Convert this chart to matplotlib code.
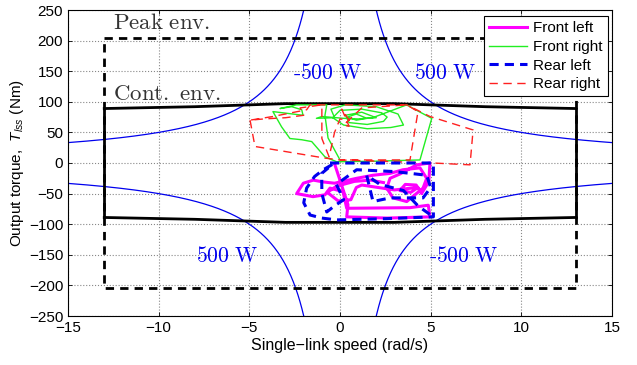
import numpy as np
import matplotlib
matplotlib.use("Agg")
import matplotlib.pyplot as plt

plt.rcParams['font.family'] = ['Liberation Sans', 'DejaVu Sans']
plt.rcParams['mathtext.fontset'] = 'custom'
plt.rcParams['mathtext.rm'] = 'Liberation Sans'
plt.rcParams['mathtext.it'] = 'Liberation Sans:italic'

# ---------------- data ----------------
x_ticks = [-15, -10, -5, 0, 5, 10, 15]
y_ticks = [-250, -200, -150, -100, -50, 0, 50, 100, 150, 200, 250]

peak_speed = [-13, 13, 13, -13, -13]
peak_torque = [205, 205, -205, -205, 205]

cont_speed = [-13, -8, -5, -3, 0, 3, 5, 8, 13]
cont_torque = [89, 92, 95, 97, 97, 97, 95, 92, 89]

power_levels = [500, -500]

fl_speed = [-0.28, 0.44, 0.37, 2.6, 4.96, 4.87, 3.86, 0.37, 0.17, -0.55, -0.83, -1.49,
            -2.39, -2.02, -1.47, -0.92, -0.3, 0.92, 1.82, 2.76, 3.47, 4.41, 4.78, 4.58,
            3.68, 2.92, 2.58, 2.76, 3.3, 4.23, 4.96, 4.9, 4.5, 4.2, 3.6, 3.3, 3.9, 4.3,
            3.0, 1.2, 0.9, 0.6, -0.1, -0.7, -0.2, 0.8, 1.7, 2.4]
fl_torque = [-3, -68, -88, -90, -88, -69, -73, -74, -47, -41, -52, -55,
             -50, -33, -28, -31, -33, -25, -20, -17, -11, -8, -25, -41,
             -63, -57, -41, -25, -18, -3, 0, -30, -50, -36, -35, -45, -48, -40,
             -44, -36, -40, -60, -62, -48, -38, -30, -28, -32]

fr_speed = [1.4, 0.9, 0.4, 0.9, 1.5, 2.0, 1.2, 0.3, 0.5, 1.5, 2.4, 2.6,
            2.3, 1.2, 0.0, -0.4, 0.2, 1.5, 2.8, 3.5, 3.2, 2.0, 0.3, -0.5,
            -0.3, -1.3, -1.0, 0.2, 1.0, 1.8,
            3.68, 4.04, 5.06, 4.41, 2.0, -0.18, -0.83, -1.56, -2.11, -2.76, -3.22, -3.70,
            -2.04, -2.11, -2.66, -3.31, -2.4, -0.73, -0.83, -0.66, 0.0]
fr_torque = [74, 80, 75, 70, 73, 74, 83, 78, 66, 63, 68, 75,
             82, 88, 86, 74, 62, 56, 58, 62, 80, 92, 95, 88,
             74, 73, 76, 73, 72, 74,
             95, 89, 73, 5, 3, 2, 10, 35, 38, 40, 59, 84,
             78, 87, 92, 89, 95, 95, 78, 41, 5]

rl_speed = [-0.55, 5.15, 5.15, 2.5, -0.18, -1.0, -1.65, -2.0, -1.84, -1.4, -0.92, -0.4,
            -1.01, -1.0, -0.73, -0.3, 0.2, -0.2, 0.92, 3.0, 4.78, 5.0, 4.58, 2.76,
            1.82, 1.47, 2.2, 3.5, 4.3, 5.0]
rl_torque = [0, 0, -88, -91, -93, -90, -85, -65, -41, -22, -11, -2,
             -17, -50, -80, -70, -60, -35, -11, -14, -20, -40, -57, -57,
             -63, -20, -35, -45, -70, -85]

rr_speed = [-4.96, -4.69, -0.83, 0.0, 5.13, 7.17, 7.34, 4.96, 3.68, -1.65, -1.84, -3.70, -4.96,
            -4.2, -3.0, -2.0, -2.2, -1.0, -1.0, -0.6, -0.3, 0.0, 0.5, 0.1, 0.5, 0.2,
            1.2, 3.68, 4.3, 3.86, 0.0]
rr_torque = [70, 27, 8, 5, 0, -3, 54, 76, 95, 95, 87, 76, 70,
             72, 74, 78, 90, 95, 40, 10, 50, 72, 70, 88, 60, 62,
             90, 95, 84, 5, 5]

# ---------------- figure ----------------
fig = plt.figure(figsize=(6.37, 3.65), dpi=100)
ax = fig.add_axes([68/637, 1-316/365, (612-68)/637, (316-10)/365])

# constant power curves
for P in power_levels:
    w_neg = np.linspace(-15, -0.5, 400)
    w_pos = np.linspace(0.5, 15, 400)
    ax.plot(w_neg, P / w_neg, color='#0000ee', lw=0.9, zorder=2)
    ax.plot(w_pos, P / w_pos, color='#0000ee', lw=0.9, zorder=2)

ax.plot(peak_speed, peak_torque, color='black', lw=2.0, ls=(0, (3, 2.2)), zorder=3)
ax.plot(cont_speed, cont_torque, color='black', lw=2.0, zorder=3)
ax.plot(cont_speed, [-t for t in cont_torque], color='black', lw=2.0, zorder=3)
ax.plot([-13, -13], [-cont_torque[0], cont_torque[0]], color='black', lw=2.0, zorder=3)
ax.plot([13, 13], [-cont_torque[-1], cont_torque[-1]], color='black', lw=2.0, zorder=3)

l1, = ax.plot(fl_speed, fl_torque, color='#ff00ff', lw=2.2, zorder=5, label='Front left')
l2, = ax.plot(fr_speed, fr_torque, color='#22ee22', lw=1.0, zorder=4, label='Front right')
l3, = ax.plot(rl_speed, rl_torque, color='#0000ee', lw=2.2, ls=(0, (3, 2)), zorder=6, label='Rear left')
l4, = ax.plot(rr_speed, rr_torque, color='#ff2020', lw=1.0, ls=(0, (6, 4)), zorder=4, label='Rear right')

tk = dict(math_fontfamily='cm', va='center')
ax.text(-12.5, 229, r'$\mathrm{Peak\ env.}$', color='#333333', ha='left', fontsize=16.5, **tk)
ax.text(-12.5, 114, r'$\mathrm{Cont.\ env.}$', color='#333333', ha='left', fontsize=16.5, **tk)
ax.text(-0.7, 147, r'$\mathrm{\text{-}500\ W}$', color='#0000ee', ha='center', fontsize=15.5, **tk)
ax.text(5.8, 147, r'$\mathrm{500\ W}$', color='#0000ee', ha='center', fontsize=15.5, **tk)
ax.text(-6.25, -153, r'$\mathrm{500\ W}$', color='#0000ee', ha='center', fontsize=15.5, **tk)
ax.text(6.8, -153, r'$\mathrm{\text{-}500\ W}$', color='#0000ee', ha='center', fontsize=15.5, **tk)

ax.set_xlim(-15, 15)
ax.set_ylim(-250, 250)
ax.set_xticks(x_ticks)
ax.set_yticks(y_ticks)
ax.set_xticklabels([str(v).replace('-', '\u2212') for v in x_ticks])
ax.set_yticklabels([str(v).replace('-', '\u2212') for v in y_ticks])
ax.tick_params(direction='in', top=True, right=True, labelsize=11, length=3, width=0.6)
ax.grid(True, ls=':', color='#888888', lw=0.8)
for s in ax.spines.values():
    s.set_linewidth(0.8)

ax.set_xlabel('Single\u2212link speed (rad/s)', fontsize=11.5, labelpad=2)
ax.set_ylabel('Output torque,  $T_{lss}$ (Nm)', fontsize=11, labelpad=2)

leg = ax.legend(handles=[l1, l2, l3, l4], loc='upper right', fontsize=11,
                bbox_to_anchor=(1 - 4/544, 1 - 6/306), borderaxespad=0,
                frameon=True, fancybox=False, edgecolor='black', framealpha=1,
                handlelength=2.5, labelspacing=0.3,
                borderpad=0.35, handletextpad=0.4)
leg.get_frame().set_linewidth(0.8)
leg.set_zorder(10)

fig.savefig('out.png', dpi=100)
